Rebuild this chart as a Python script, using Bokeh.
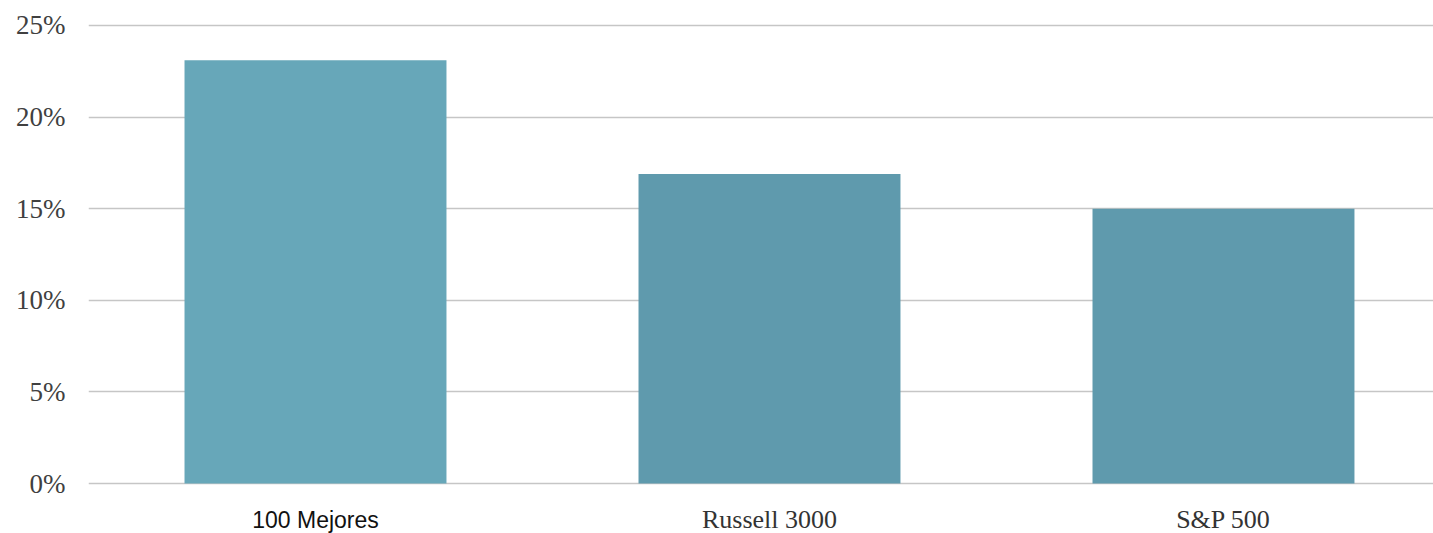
from bokeh.plotting import figure
from bokeh.models import Range1d, PrintfTickFormatter, FixedTicker, ColumnDataSource
from bokeh.embed import file_html
from bokeh.resources import INLINE

categories = ["100 Mejores", "Russell 3000", "S&P 500"]
values = [23.1, 16.9, 15.0]
bar_colors = ["#67a7b9", "#5f9aad", "#5f9aad"]
label_fonts = ["Liberation Sans", "Liberation Serif", "Liberation Serif"]
label_colors = ["#111111", "#333333", "#333333"]
label_sizes = ["23px", "26px", "26px"]
y_ticks = [0, 5, 10, 15, 20, 25]

xs = list(range(len(categories)))

p = figure(width=1433, height=533, output_backend="svg", toolbar_location=None,
           x_range=Range1d(-0.5, 2.4626), y_range=Range1d(-2.729, 25.109),
           min_border_left=88, min_border_right=0, min_border_top=23, min_border_bottom=0)
p.outline_line_color = None
p.background_fill_color = "white"
p.border_fill_color = "white"

p.vbar(x=xs, top=values, width=0.577, bottom=0, fill_color=bar_colors, line_color=None)

src = ColumnDataSource(dict(x=xs, y=[0] * len(xs), text=categories, font=label_fonts,
                            size=label_sizes, color=label_colors))
p.text(x="x", y="y", text="text", source=src, y_offset=36, text_align="center",
       text_baseline="alphabetic", text_font="font", text_font_size="size",
       text_color="color")

p.xaxis.visible = False
p.xgrid.visible = False
p.ygrid.grid_line_color = "#c6c6c6"
p.ygrid.grid_line_width = 1.6
p.ygrid.ticker = FixedTicker(ticks=y_ticks)

ax = p.yaxis[0]
ax.ticker = FixedTicker(ticks=y_ticks)
ax.formatter = PrintfTickFormatter(format="%d%%")
ax.axis_line_color = None
ax.major_tick_line_color = None
ax.minor_tick_line_color = None
ax.major_tick_out = 0
ax.major_tick_in = 0
ax.major_label_standoff = 23
ax.major_label_text_font = "Liberation Serif"
ax.major_label_text_font_size = "27px"
ax.major_label_text_color = "#404040"

open("out.html", "w").write(file_html(p, INLINE))
